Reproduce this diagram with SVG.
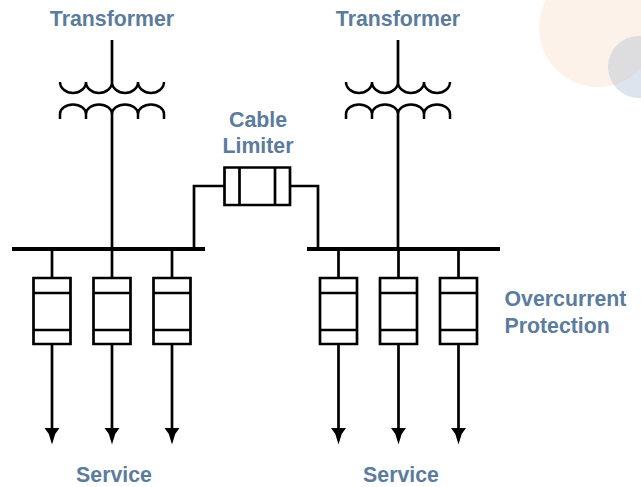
<svg xmlns="http://www.w3.org/2000/svg" width="641" height="487" viewBox="0 0 641 487">
<style>
.l{fill:none;stroke:#000;stroke-width:2.700}
.c{fill:none;stroke:#000;stroke-width:2.500}
.t{font-family:"Liberation Sans",Arial,sans-serif;font-weight:bold;font-size:21.300px;fill:#5b7c9d;text-anchor:middle}
.s{text-anchor:start}
.h{fill:#000}
</style>
<defs>
<g id="xf"><path class="c" d="M-52 42A13 11 0 0 0 -26 42M-26 42A13 11 0 0 0 0 42M0 42A13 11 0 0 0 26 42M26 42A13 11 0 0 0 52 42"/><path class="c" d="M-52 79V74A13 9.500 0 0 1 -26 74V79M-26 74A13 9.500 0 0 1 0 74M0 74A13 9.500 0 0 1 26 74V79M26 74A13 9.500 0 0 1 52 74V79"/><path class="l" d="M0 42V0M0 74V209"/></g>
<g id="fu"><path class="l" d="M0 -29V0M-18.500 0H18.500V66H-18.500ZM-18.500 15H18.500M-18.500 52H18.500M0 66V156"/><path class="h" d="M-7.500 150H7.500L3.200 156L0 166.500L-3.200 156Z"/></g>
</defs>
<rect width="641" height="487" fill="#fff"/>
<circle cx="598" cy="28" r="59" fill="#fdf2e9"/>
<circle cx="639" cy="67" r="31" fill="#a9b8cf" fill-opacity=".38"/>
<g id="connectors">
<path class="l" d="M224 186H194V249M290 186H318V249"/>
<path d="M12 249H205M307 249H500" fill="none" stroke="#000" stroke-width="4"/>
</g>
<g id="transformer-left"><use href="#xf" x="112" y="40"/><text class="t" x="112" y="26">Transformer</text></g>
<g id="transformer-right"><use href="#xf" x="398" y="40"/><text class="t" x="398" y="26">Transformer</text></g>
<g id="limiter"><path class="l" d="M224.500 167.500H290V205H224.500ZM239.500 167.500V205M275 167.500V205" fill="#fff"/><text class="t" x="258" y="127">Cable</text><text class="t" x="258" y="153">Limiter</text></g>
<g id="fuse-l1"><use href="#fu" x="52" y="278"/></g>
<g id="fuse-l2"><use href="#fu" x="112" y="278"/></g>
<g id="fuse-l3"><use href="#fu" x="172" y="278"/></g>
<g id="fuse-r1"><use href="#fu" x="338.500" y="278"/></g>
<g id="fuse-r2"><use href="#fu" x="398.500" y="278"/></g>
<g id="fuse-r3"><use href="#fu" x="458.500" y="278"/></g>
<g id="label-overcurrent"><text class="t s" x="504.500" y="306">Overcurrent</text><text class="t s" x="504.500" y="333">Protection</text></g>
<g id="label-service-left"><text class="t" x="114" y="482">Service</text></g>
<g id="label-service-right"><text class="t" x="401" y="482">Service</text></g>
</svg>
